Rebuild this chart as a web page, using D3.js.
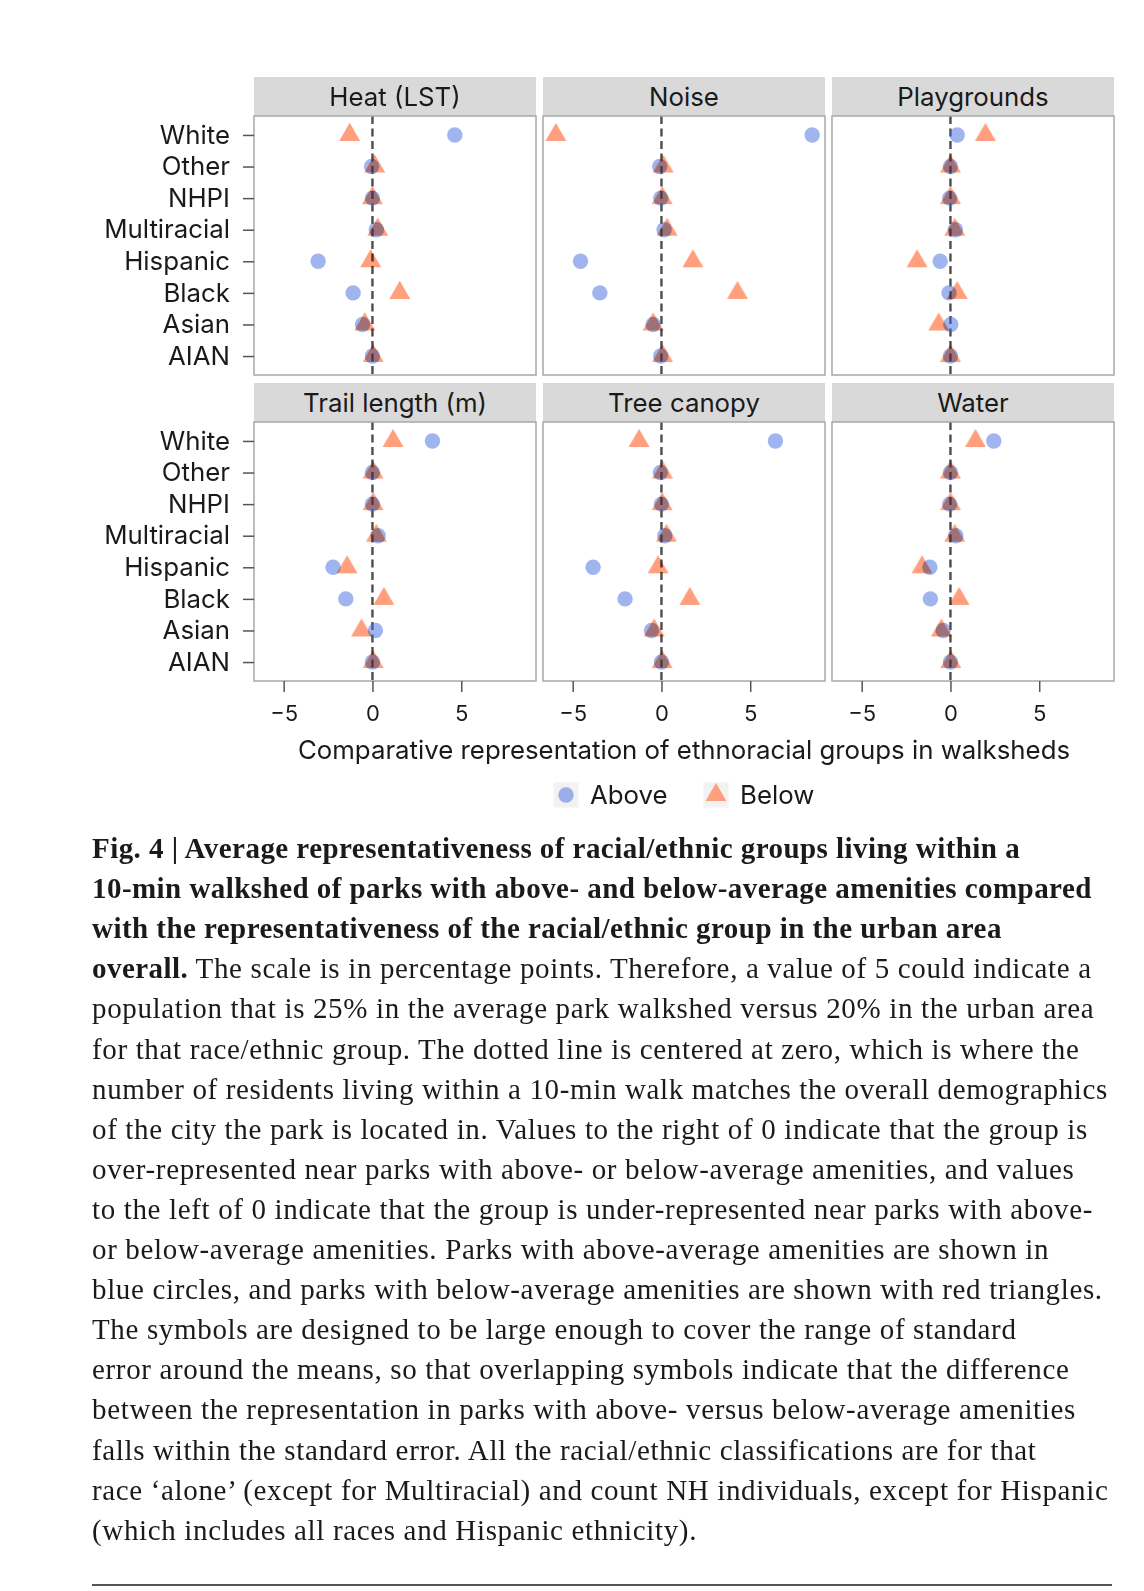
<!DOCTYPE html>
<html>
<head>
<meta charset="utf-8">
<script src="https://cdn.jsdelivr.net/npm/d3@7"></script>
<style>
    body { margin: 0; background: #fff; }
    svg text { font-family: Inter, 'Noto Sans', sans-serif; fill: #1a1a1a; }
    svg text.caption { font-family: 'Liberation Serif', serif; }
</style>
</head>
<body>
<svg id="mainSvg" width="1144" height="1591"></svg>
<script>
// * Data (percentage points)
let groups = ['AIAN', 'Asian', 'Black', 'Hispanic', 'Multiracial', 'NHPI', 'Other', 'White']
let facetNames = ['Heat (LST)', 'Noise', 'Playgrounds', 'Trail length (m)', 'Tree canopy', 'Water']

// values follow the order of groups
let heatAbove = [0, -0.56, -1.09, -3.06, 0.22, 0, -0.05, 4.64]
let heatBelow = [0.04, -0.43, 1.54, -0.1, 0.3, 0, 0.13, -1.28]
let noiseAbove = [-0.04, -0.47, -3.47, -4.56, 0.15, -0.04, -0.1, 8.49]
let noiseBelow = [0.06, -0.47, 4.28, 1.77, 0.32, 0.04, 0.1, -5.95]
let playAbove = [0, 0.02, -0.08, -0.58, 0.28, -0.04, 0, 0.38]
let playBelow = [0, -0.66, 0.38, -1.88, 0.24, 0, 0, 1.97]
let trailAbove = [0, 0.17, -1.5, -2.22, 0.32, 0, 0, 3.38]
let trailBelow = [0.04, -0.62, 0.64, -1.43, 0.22, 0.04, 0.04, 1.16]
let treeAbove = [0, -0.56, -2.05, -3.85, 0.19, 0, -0.06, 6.42]
let treeBelow = [0.04, -0.41, 1.6, -0.19, 0.28, 0.04, 0.06, -1.26]
let waterAbove = [0, -0.41, -1.13, -1.16, 0.3, -0.04, 0, 2.44]
let waterBelow = [0.02, -0.51, 0.49, -1.6, 0.24, 0, 0, 1.41]

let xTicks = [-5, 0, 5]
let seriesNames = ['Above', 'Below']
let xTitle = 'Comparative representation of ethnoracial groups in walksheds'

// caption lines: each line is a list of [text, bold]
let captionLines = [
    [['Fig. 4 | Average representativeness of racial/ethnic groups living within a', true]],
    [['10-min walkshed of parks with above- and below-average amenities compared', true]],
    [['with the representativeness of the racial/ethnic group in the urban area', true]],
    [['overall.', true], [' The scale is in percentage points. Therefore, a value of 5 could indicate a', false]],
    [['population that is 25% in the average park walkshed versus 20% in the urban area', false]],
    [['for that race/ethnic group. The dotted line is centered at zero, which is where the', false]],
    [['number of residents living within a 10-min walk matches the overall demographics', false]],
    [['of the city the park is located in. Values to the right of 0 indicate that the group is', false]],
    [['over-represented near parks with above- or below-average amenities, and values', false]],
    [['to the left of 0 indicate that the group is under-represented near parks with above-', false]],
    [['or below-average amenities. Parks with above-average amenities are shown in', false]],
    [['blue circles, and parks with below-average amenities are shown with red triangles.', false]],
    [['The symbols are designed to be large enough to cover the range of standard', false]],
    [['error around the means, so that overlapping symbols indicate that the difference', false]],
    [['between the representation in parks with above- versus below-average amenities', false]],
    [['falls within the standard error. All the racial/ethnic classifications are for that', false]],
    [['race \u2018alone\u2019 (except for Multiracial) and count NH individuals, except for Hispanic', false]],
    [['(which includes all races and Hispanic ethnicity).', false]]
]

// * Layout
let svg = d3.select('#mainSvg')
let colX = [254, 543, 832]
let stripTop = [77, 383]
let stripH = 39
let panelW = 282
let panelH = 259
let labelSize = 25.8

let blue = 'rgba(65, 105, 225, 0.5)'
let orange = '#ff9f7d'

let facets = facetNames.map(function (name, i) {
    let a = [heatAbove, noiseAbove, playAbove, trailAbove, treeAbove, waterAbove][i]
    let b = [heatBelow, noiseBelow, playBelow, trailBelow, treeBelow, waterBelow][i]
    return {
        name: name,
        above: groups.map((g, j) => ({group: g, value: a[j]})),
        below: groups.map((g, j) => ({group: g, value: b[j]}))
    }
})

// shared x domain with ggplot-like 5% expansion
let allValues = facets.flatMap(f => f.above.concat(f.below).map(d => d.value))
let ext = d3.extent(allValues)
let pad = (ext[1] - ext[0]) * 0.05
let x = d3.scaleLinear().domain([ext[0] - pad, ext[1] + pad]).range([0, panelW])
let y = d3.scalePoint().domain(groups).range([panelH, 0]).padding(0.6)

let triangle = d3.symbol().type(d3.symbolTriangle).size(190)
let fmt = d => d < 0 ? '\u2212' + Math.abs(d) : String(d)

facets.forEach(function (f, i) {
    let col = i % 3
    let row = Math.floor(i / 3)
    let g = svg.append('g')
        .attr('transform', 'translate(' + colX[col] + ',' + stripTop[row] + ')')

    // strip
    g.append('rect')
        .attr('width', panelW)
        .attr('height', stripH)
        .attr('fill', '#d9d9d9')
    g.append('text')
        .attr('x', panelW / 2)
        .attr('y', stripH / 2 + 9)
        .attr('text-anchor', 'middle')
        .attr('font-size', labelSize)
        .text(f.name)

    let p = g.append('g')
        .attr('transform', 'translate(0,' + stripH + ')')

    // zero line
    p.append('line')
        .attr('x1', x(0)).attr('x2', x(0))
        .attr('y1', 0).attr('y2', panelH)
        .attr('stroke', '#4d4d4d')
        .attr('stroke-width', 2.4)
        .attr('stroke-dasharray', '8,4.5')

    p.append('g')
        .selectAll('circle')
        .data(f.above)
        .enter()
        .append('circle')
        .attr('cx', d => x(d.value))
        .attr('cy', d => y(d.group))
        .attr('r', 7.7)
        .attr('fill', blue)

    p.append('g')
        .selectAll('path')
        .data(f.below)
        .enter()
        .append('path')
        .attr('d', triangle)
        .attr('transform', d => 'translate(' + x(d.value) + ',' + y(d.group) + ')')
        .attr('fill', orange)
        .style('mix-blend-mode', 'multiply')

    p.append('rect')
        .attr('width', panelW)
        .attr('height', panelH)
        .attr('fill', 'none')
        .attr('stroke', '#a8a8a8')
        .attr('stroke-width', 1.5)

    if (col === 0) {
        let ay = p.append('g')
            .call(d3.axisLeft(y).tickSize(11).tickPadding(13))
        ay.select('.domain').remove()
        ay.selectAll('line').attr('stroke', '#555').attr('stroke-width', 1.5)
        ay.selectAll('text').attr('font-size', labelSize).attr('fill', '#1a1a1a')
            .style('font-family', "Inter, 'Noto Sans', sans-serif")
    }
    if (row === 1) {
        let ax = p.append('g')
            .attr('transform', 'translate(0,' + panelH + ')')
            .call(d3.axisBottom(x).tickValues(xTicks).tickFormat(fmt).tickSize(11).tickPadding(13))
        ax.select('.domain').remove()
        ax.selectAll('line').attr('stroke', '#555').attr('stroke-width', 1.5)
        ax.selectAll('text').attr('font-size', 22).attr('fill', '#1a1a1a')
            .style('font-family', "Inter, 'Noto Sans', sans-serif")
    }
})

// * Axis title
svg.append('text')
    .attr('x', (colX[0] + colX[2] + panelW) / 2)
    .attr('y', 759)
    .attr('text-anchor', 'middle')
    .attr('font-size', labelSize)
    .text(xTitle)

// * Legend
let legend = svg.append('g').attr('transform', 'translate(0,795)')
let legendX = [566, 716]
seriesNames.forEach(function (s, i) {
    legend.append('rect')
        .attr('x', legendX[i] - 12.5)
        .attr('y', -12.5)
        .attr('width', 25)
        .attr('height', 25)
        .attr('fill', '#f2f2f2')
    if (i === 0) {
        legend.append('circle')
            .attr('cx', legendX[i])
            .attr('r', 7.7)
            .attr('fill', blue)
    } else {
        legend.append('path')
            .attr('d', triangle)
            .attr('transform', 'translate(' + legendX[i] + ',0)')
            .attr('fill', orange)
    }
    legend.append('text')
        .attr('x', legendX[i] + 24)
        .attr('y', 9)
        .attr('font-size', labelSize)
        .text(s)
})

// * Caption
let cap = svg.append('g')
captionLines.forEach(function (line, k) {
    let t = cap.append('text')
        .attr('class', 'caption')
        .attr('x', 92)
        .attr('y', 858 + k * 40.1)
        .attr('font-size', 29)
    line.forEach(function (seg) {
        t.append('tspan')
            .attr('font-weight', seg[1] ? 'bold' : 'normal')
            .attr('letter-spacing', seg[1] ? 0.45 : 0.65)
            .style('white-space', 'pre')
            .text(seg[0])
    })
})

svg.append('line')
    .attr('x1', 92).attr('x2', 1112)
    .attr('y1', 1585).attr('y2', 1585)
    .attr('stroke', '#555')
    .attr('stroke-width', 2)
</script>
</body>
</html>
